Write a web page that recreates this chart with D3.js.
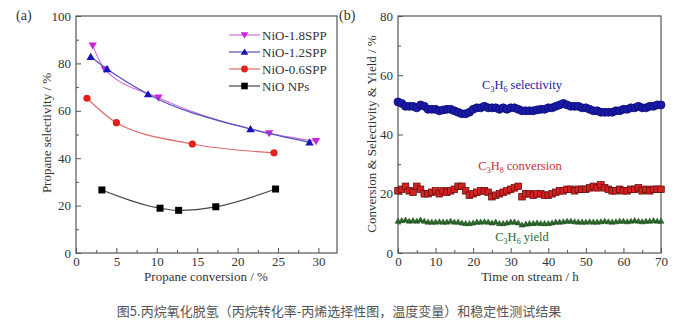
<!DOCTYPE html>
<html>
<head>
<meta charset="utf-8">
<script src="https://cdn.jsdelivr.net/npm/d3@7"></script>
<style>
  body { margin: 0; background: #fff; }
  svg text { font-family: "Liberation Serif", "Times New Roman", serif; }
</style>
</head>
<body>
<script>
// panel (a) data: propane conversion (x) vs propene selectivity (y)
const conv18 = [2.07, 3.56, 10.2, 23.9, 29.7];
const sel18 = [87.5, 77.5, 65.5, 50.5, 47.2];
const conv12 = [1.82, 3.85, 8.92, 21.6, 28.9];
const sel12 = [82.8, 77.6, 67, 52.3, 46.7];
const conv06 = [1.36, 5.0, 14.4, 24.5];
const sel06 = [65.3, 55, 46, 42.3];
const convNP = [3.2, 10.4, 12.7, 17.3, 24.7];
const selNP = [26.6, 18.9, 18, 19.5, 27];
const seriesNames = ["NiO-1.8SPP", "NiO-1.2SPP", "NiO-0.6SPP", "NiO NPs"];

// panel (b) data: stability test, one reading per hour
const hours = [0,1,2,3,4,5,6,7,8,9,10,11,12,13,14,15,16,17,18,19,20,21,22,23,24,25,26,27,28,29,30,
  31,32,33,34,35,36,37,38,39,40,41,42,43,44,45,46,47,48,49,50,51,52,53,54,55,56,57,58,59,60,
  61,62,63,64,65,66,67,68,69,70];
const selectivity = [51,50.5,49.5,49.5,49.5,49,50,49.5,48.5,48.5,
  48.5,48,48.3,48.5,48.5,48,47.5,47,47,47.5,
  48.5,49,49,49.5,49,49,49,48.5,49,48.5,
  49,49,48.5,48,48,48,48,48.3,48.5,48.5,
  49,49,49.5,50,50.5,50,49.5,49.5,49.5,49,
  49,48.5,48,48,47.5,47.5,47.5,47.5,48,48,
  48.5,48.5,49,49,49.5,49,49,49.5,49.5,50,50];
const conversion = [21,21.5,22.5,21,20.5,22.5,21.5,20,20,20.5,
  21,20,21,20.5,21,21.5,22.5,22.5,21,19.5,
  20,20.5,21,21,20.5,19,19.5,20,20.5,21,
  21.5,22,22.5,19,20,20,19.5,20,20,19.5,
  19.5,20,20.5,21,21,21.5,21.5,21,21.5,21.5,
  21.5,22,22.5,22,23,22,21.5,21,21,21.5,
  21,21,21.5,21.5,22,21,21.5,21,21.5,21.5,21.5];
const yieldC3H6 = [10.8,11,11.2,10.8,11,10.8,11.2,10.8,10.5,10.5,
  10.5,10.6,10.5,10.5,10.8,10.5,10.5,10.2,10,10,
  10.2,10.5,10.5,10.6,10.5,10.2,10.5,10,10,10.2,
  10.5,10.5,10.2,9.5,9.8,10,10,10.2,10,10,
  10,10.2,10.5,10.5,10.6,10.8,10.8,10.6,10.5,10.5,
  10.5,10.6,10.5,10.5,10.6,10.8,10.6,10.5,10.6,10.8,
  10.8,10.6,10.8,11,10.8,10.6,10.8,10.8,11,10.8,10.8];

const xTicksA = [0, 5, 10, 15, 20, 25, 30];
const yTicksA = [0, 20, 40, 60, 80, 100];
const xTicksB = [0, 10, 20, 30, 40, 50, 60, 70];
const yTicksB = [0, 20, 40, 60, 80];

const width = 679, height = 328;
const svg = d3.select("body").append("svg")
  .attr("width", width).attr("height", height);

const axisColor = "#555";

// scales
const xA = d3.scaleLinear().domain([0, 32.3]).range([76, 337]);
const yA = d3.scaleLinear().domain([0, 100]).range([253, 16]);
const xB = d3.scaleLinear().domain([0, 70]).range([398, 661]);
const yB = d3.scaleLinear().domain([0, 80]).range([253, 16]);

function drawFrame(x, y, xTicks, yTicks, xMinor, yMinor) {
  const g = svg.append("g");
  g.append("g").attr("transform", `translate(0,${y.range()[0]})`)
    .call(d3.axisBottom(x).tickValues(xMinor).tickFormat("").tickSize(-3));
  g.append("g").attr("transform", `translate(${x.range()[0]},0)`)
    .call(d3.axisLeft(y).tickValues(yMinor).tickFormat("").tickSize(-3));
  g.append("g").attr("transform", `translate(0,${y.range()[0]})`)
    .call(d3.axisBottom(x).tickValues(xTicks).tickSize(-5).tickPadding(4));
  g.append("g").attr("transform", `translate(${x.range()[0]},0)`)
    .call(d3.axisLeft(y).tickValues(yTicks).tickSize(-5).tickPadding(5));
  g.selectAll(".domain").remove();
  g.selectAll(".tick line").attr("stroke", axisColor);
  g.selectAll(".tick text").attr("fill", "#333").style("font-size", "13px")
    .style("font-family", "Liberation Serif");
  g.append("rect")
    .attr("x", x.range()[0]).attr("y", y.range()[1])
    .attr("width", x.range()[1] - x.range()[0])
    .attr("height", y.range()[0] - y.range()[1])
    .attr("fill", "none").attr("stroke", axisColor).attr("stroke-width", 1.2);
}

drawFrame(xA, yA, xTicksA, yTicksA, [2.5, 7.5, 12.5, 17.5, 22.5, 27.5], [10, 30, 50, 70, 90]);
drawFrame(xB, yB, xTicksB, yTicksB, [5, 15, 25, 35, 45, 55, 65], [10, 30, 50, 70]);

// panel labels
svg.append("text").attr("x", 16).attr("y", 20).text("(a)")
  .style("font-size", "14px").attr("fill", "#333");
svg.append("text").attr("x", 339).attr("y", 20).text("(b)")
  .style("font-size", "14px").attr("fill", "#333");

// axis titles
svg.append("text").attr("x", 206).attr("y", 281).attr("text-anchor", "middle")
  .style("font-size", "13px").attr("fill", "#333").text("Propane conversion / %");
svg.append("text").attr("transform", "translate(51,133) rotate(-90)")
  .attr("text-anchor", "middle").style("font-size", "13px").attr("fill", "#333")
  .text("Propane selectivity / %");
svg.append("text").attr("x", 530).attr("y", 281).attr("text-anchor", "middle")
  .style("font-size", "13px").attr("fill", "#333").text("Time on stream / h");
svg.append("text").attr("transform", "translate(376,134) rotate(-90)")
  .attr("text-anchor", "middle").style("font-size", "13px").attr("fill", "#333")
  .text("Conversion & Selectivity & Yield / %");

// panel (a) series
const seriesA = [
  { name: seriesNames[0], xs: conv18, ys: sel18, line: "#d070d8", fill: "#cc22dd", sym: "down" },
  { name: seriesNames[1], xs: conv12, ys: sel12, line: "#5050c0", fill: "#1515b5", sym: "up" },
  { name: seriesNames[2], xs: conv06, ys: sel06, line: "#e06a6a", fill: "#e3201c", sym: "circle" },
  { name: seriesNames[3], xs: convNP, ys: selNP, line: "#444", fill: "#000", sym: "square" }
];

function markerPath(sym, s) {
  if (sym === "down") return `M${-s},${-s * 0.75}L${s},${-s * 0.75}L0,${s * 0.95}Z`;
  if (sym === "up") return `M${-s},${s * 0.75}L${s},${s * 0.75}L0,${-s * 0.95}Z`;
  if (sym === "square") return `M${-s},${-s}H${s}V${s}H${-s}Z`;
  return d3.symbol(d3.symbolCircle, Math.PI * s * s)();
}

const lineA = d3.line().curve(d3.curveMonotoneX)
  .x(d => xA(d[0])).y(d => yA(d[1]));

seriesA.forEach(s => {
  const pts = s.xs.map((v, i) => [v, s.ys[i]]);
  svg.append("path").datum(pts).attr("d", lineA)
    .attr("fill", "none").attr("stroke", s.line).attr("stroke-width", 1.2);
  const size = s.sym === "square" ? 3.5 : s.sym === "circle" ? 3.6 : 4.2;
  svg.selectAll(null).data(pts).enter().append("path")
    .attr("transform", d => `translate(${xA(d[0])},${yA(d[1])})`)
    .attr("d", markerPath(s.sym, size))
    .attr("fill", s.fill);
});

// legend
const legY = [35, 52, 69, 86];
seriesA.forEach((s, i) => {
  const g = svg.append("g").attr("transform", `translate(229,${legY[i]})`);
  g.append("line").attr("x1", 0).attr("x2", 31).attr("stroke", s.line).attr("stroke-width", 1.2);
  const size = s.sym === "square" ? 3.3 : s.sym === "circle" ? 3.4 : 3.8;
  g.append("path").attr("transform", "translate(15.5,0)")
    .attr("d", markerPath(s.sym, size)).attr("fill", s.fill);
  g.append("text").attr("x", 33).attr("y", 4.5).text(s.name)
    .style("font-size", "13px").attr("fill", "#333");
});

// panel (b) series
const ptsSel = hours.map((h, i) => [h, selectivity[i]]);
const ptsConv = hours.map((h, i) => [h, conversion[i]]);
const ptsYield = hours.map((h, i) => [h, yieldC3H6[i]]);

svg.selectAll(null).data(ptsSel).enter().append("circle")
  .attr("cx", d => xB(d[0])).attr("cy", d => yB(d[1])).attr("r", 4)
  .attr("fill", "#1a1aa8").attr("stroke", "#0a0a70").attr("stroke-width", 0.8);

svg.selectAll(null).data(ptsConv).enter().append("rect")
  .attr("x", d => xB(d[0]) - 3.3).attr("y", d => yB(d[1]) - 3.3)
  .attr("width", 6.6).attr("height", 6.6)
  .attr("fill", "#d42222").attr("stroke", "#5a0a0a").attr("stroke-width", 0.7);

svg.selectAll(null).data(ptsYield).enter().append("path")
  .attr("transform", d => `translate(${xB(d[0])},${yB(d[1])})`)
  .attr("d", markerPath("up", 3))
  .attr("fill", "#2a6a2a").attr("stroke", "#174017").attr("stroke-width", 0.5);

// annotations (b)
function chemLabel(x, y, color, sub1, sub2, rest) {
  const t = svg.append("text").attr("x", x).attr("y", y).attr("text-anchor", "middle")
    .style("font-size", "12.5px").attr("fill", color);
  t.append("tspan").text("C");
  t.append("tspan").attr("dy", 3).style("font-size", "8px").text(sub1);
  t.append("tspan").attr("dy", -3).text("H");
  t.append("tspan").attr("dy", 3).style("font-size", "8px").text(sub2);
  t.append("tspan").attr("dy", -3).text(" " + rest);
}
chemLabel(522, 89, "#1a1aa0", "3", "6", "selectivity");
chemLabel(520, 170, "#c83030", "3", "8", "conversion");
chemLabel(522, 241, "#2a6a2a", "3", "6", "yield");

// caption
svg.append("text").attr("x", 339).attr("y", 316).attr("text-anchor", "middle")
  .style("font-family", "Noto Sans CJK SC").style("font-size", "13px").attr("fill", "#555")
  .text("图5.丙烷氧化脱氢（丙烷转化率-丙烯选择性图，温度变量）和稳定性测试结果");
</script>
</body>
</html>
